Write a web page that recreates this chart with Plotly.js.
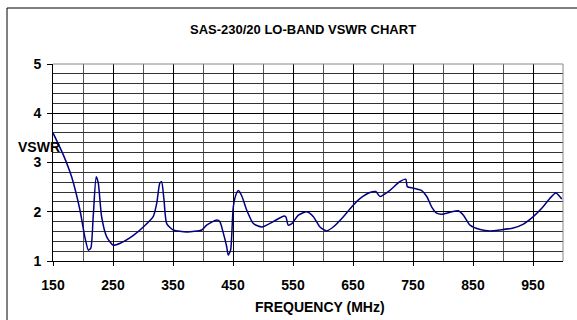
<!DOCTYPE html>
<html>
<head>
<meta charset="utf-8">
<script src="https://cdn.plot.ly/plotly-3.0.1.min.js"></script>
<style>html,body{margin:0;padding:0;background:#fff;}#chart{width:577px;height:320px;}</style>
</head>
<body>
<div id="chart"></div>
<script>
const freq = [150,167,181,195,203,209,213,217,222,225.5,231,239.5,250.5,262,284,300.5,317,323,328,331,335,339.5,350.5,373,398,406,423,428,434,439.5,442,446,450.5,456,459,465,473,484,498,517,534,538,542,548,559,573,584,595,606,617,634,648,662,678,688,695,712,728,738,740.5,750.5,764.5,773,781,789.5,798,812,825.5,834,845,862,878,895,917,934,950.5,964.5,978,988,998];
const vswr = [3.6,3.16,2.71,2.03,1.49,1.22,1.26,1.9,2.71,2.58,1.9,1.49,1.32,1.36,1.52,1.69,1.9,2.18,2.58,2.61,2.24,1.76,1.63,1.59,1.63,1.73,1.83,1.8,1.56,1.29,1.12,1.22,2.1,2.38,2.43,2.31,2.03,1.76,1.69,1.8,1.91,1.9,1.73,1.76,1.93,2.0,1.9,1.69,1.61,1.69,1.9,2.1,2.27,2.39,2.41,2.31,2.44,2.61,2.66,2.51,2.48,2.43,2.31,2.1,1.97,1.95,1.99,2.02,1.93,1.73,1.64,1.61,1.63,1.67,1.75,1.9,2.07,2.27,2.38,2.26];
const xTicks = [150,250,350,450,550,650,750,850,950];
const yTicks = [1,2,3,4,5];
const titleText = 'SAS-230/20 LO-BAND VSWR CHART';
const xTitle = 'FREQUENCY (MHz)';
const yTitle = 'VSWR';

const fam = 'Liberation Sans, Arial, sans-serif';
const W = 577, H = 320, L = 53, R = 14, T = 64, B = 59;
const pw = W - L - R, ph = H - T - B;
const px = v => (v - L) / pw;
const py = v => (H - B - v) / ph;

Plotly.newPlot('chart', [{
  x: freq, y: vswr, type:'scatter', mode:'lines',
  line:{color:'#000080', width:1.5, shape:'spline', smoothing:0.6},
  hoverinfo:'skip'
}], {
  width: W, height: H,
  margin:{l:L, r:R, t:T, b:B, pad:0},
  paper_bgcolor:'#fff', plot_bgcolor:'#fff',
  showlegend:false,
  font:{family:fam, color:'#000', size:14, weight:700},
  xaxis:{
    range:[150,1000], tickvals:xTicks, ticktext:xTicks.map(String),
    showgrid:true, gridcolor:'#000', gridwidth:1,
    minor:{dtick:50, tick0:150, showgrid:true, gridcolor:'#555', gridwidth:1, ticks:''},
    ticks:'outside', ticklen:4, tickcolor:'#000', ticklabelstandoff:7,
    showline:true, linecolor:'#000', linewidth:1,
    zeroline:false, tickfont:{family:fam, size:14, weight:700, color:'#000'},
    fixedrange:true
  },
  yaxis:{
    range:[1,5], tickvals:yTicks, ticktext:yTicks.map(String),
    showgrid:true, gridcolor:'#000', gridwidth:1,
    minor:{dtick:0.2, tick0:1, showgrid:true, gridcolor:'#333', gridwidth:1, ticks:''},
    ticks:'outside', ticklen:5, tickcolor:'#000', ticklabelstandoff:3,
    showline:true, linecolor:'#000', linewidth:1,
    zeroline:false, tickfont:{family:fam, size:14, weight:700, color:'#000'},
    fixedrange:true
  },
  annotations:[
    {text:titleText, xref:'paper', yref:'paper', x:px(303), y:py(30), xanchor:'center', yanchor:'middle',
     showarrow:false, font:{family:fam, size:13, weight:700, color:'#000'}},
    {text:xTitle, xref:'paper', yref:'paper', x:px(320), y:py(307), xanchor:'center', yanchor:'middle',
     showarrow:false, font:{family:fam, size:14, weight:700, color:'#000'}},
    {text:yTitle, xref:'paper', yref:'paper', x:px(38.5), y:py(146.5), xanchor:'center', yanchor:'middle',
     showarrow:false, font:{family:fam, size:14, weight:700, color:'#000'}}
  ],
  shapes:[
    {type:'rect', xref:'paper', yref:'paper', x0:px(7), x1:px(582), y0:py(325), y1:py(8), line:{color:'#000', width:1}, fillcolor:'rgba(0,0,0,0)', layer:'below'},
    {type:'line', xref:'paper', yref:'paper', x0:1, x1:1, y0:0, y1:1, line:{color:'#888', width:1}},
    {type:'line', xref:'paper', yref:'paper', x0:0, x1:1, y0:1, y1:1, line:{color:'#888', width:1}}
  ]
}, {staticPlot:true, displayModeBar:false});
</script>
</body>
</html>
